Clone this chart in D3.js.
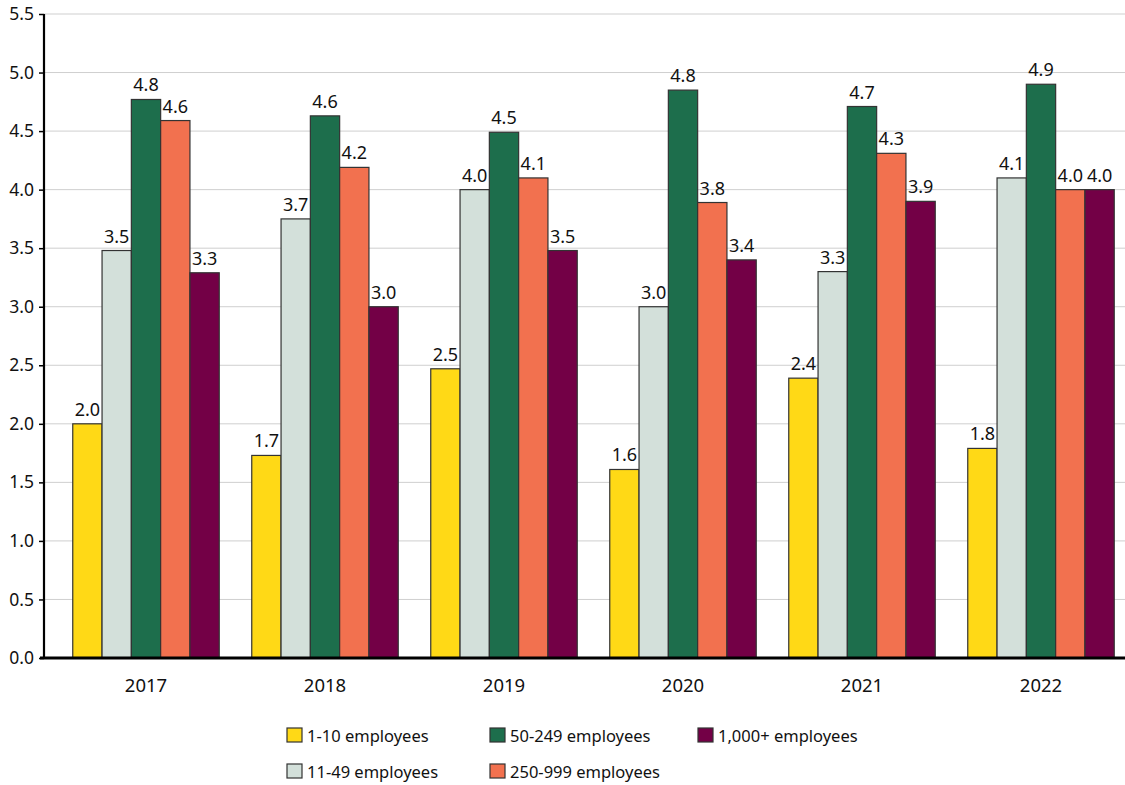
<!DOCTYPE html>
<html>
<head>
<meta charset="utf-8">
<script src="https://cdn.jsdelivr.net/npm/d3@7"></script>
<style>
  html, body { margin: 0; padding: 0; background: #fff; }
  svg { display: block; font-family: "Noto Sans", "Open Sans", sans-serif; }
</style>
</head>
<body>
<svg id="chart" width="1125" height="785"></svg>
<script>
const years = ["2017", "2018", "2019", "2020", "2021", "2022"];
const seriesNames = ["1-10 employees", "11-49 employees", "50-249 employees", "250-999 employees", "1,000+ employees"];
const s1_10 = [2.0, 1.73, 2.47, 1.61, 2.39, 1.79];
const s11_49 = [3.48, 3.75, 4.0, 3.0, 3.3, 4.1];
const s50_249 = [4.77, 4.63, 4.49, 4.85, 4.71, 4.9];
const s250_999 = [4.59, 4.19, 4.1, 3.89, 4.31, 4.0];
const s1000 = [3.29, 3.0, 3.48, 3.4, 3.9, 4.0];
// value labels as printed in the chart
const l1_10 = ["2.0", "1.7", "2.5", "1.6", "2.4", "1.8"];
const l11_49 = ["3.5", "3.7", "4.0", "3.0", "3.3", "4.1"];
const l50_249 = ["4.8", "4.6", "4.5", "4.8", "4.7", "4.9"];
const l250_999 = ["4.6", "4.2", "4.1", "3.8", "4.3", "4.0"];
const l1000 = ["3.3", "3.0", "3.5", "3.4", "3.9", "4.0"];
const colors = ["#FFD916", "#D3E0DA", "#1D6E4C", "#F2714F", "#730046"];
const yTicks = [0, 0.5, 1.0, 1.5, 2.0, 2.5, 3.0, 3.5, 4.0, 4.5, 5.0, 5.5];

const seriesValues = [s1_10, s11_49, s50_249, s250_999, s1000];
const seriesLabels = [l1_10, l11_49, l50_249, l250_999, l1000];

const svg = d3.select("#chart");
const W = 1125;

const y = d3.scaleLinear().domain([0, 5.5]).range([658, 14]);
const x = d3.scaleBand().domain(years).range([56.5, 1130.5]).paddingInner(0.1816).paddingOuter(0.0908);
const xs = d3.scaleBand().domain(seriesNames).range([0, x.bandwidth()]).padding(0);

// gridlines
svg.append("g").selectAll("line").data(yTicks.filter(d => d > 0)).join("line")
  .attr("x1", 44).attr("x2", W)
  .attr("y1", d => y(d)).attr("y2", d => y(d))
  .attr("stroke", "#cfcfcf").attr("stroke-width", 1);

// y axis
const yAxis = d3.axisLeft(y).tickValues(yTicks).tickFormat(d3.format(".1f")).tickSize(5).tickPadding(5);
const gy = svg.append("g").attr("transform", "translate(44,0)").call(yAxis);
gy.select(".domain").attr("stroke", "#000").attr("stroke-width", 2.2).attr("d", `M0,${y(5.5)}V${y(0)}`);
gy.selectAll(".tick line").attr("stroke", "#000").attr("stroke-width", 1.5);
gy.selectAll(".tick text").attr("fill", "#111").style("font-size", "17.5px")
  .style("font-family", '"Noto Sans", sans-serif');

// bars
const groups = svg.append("g").selectAll("g").data(years).join("g")
  .attr("transform", d => `translate(${x(d)},0)`);

groups.each(function(yr, i) {
  const g = d3.select(this);
  const rows = seriesNames.map((s, k) => ({ s, k, v: seriesValues[k][i], l: seriesLabels[k][i] }));
  g.selectAll("rect").data(rows).join("rect")
    .attr("x", d => xs(d.s))
    .attr("y", d => y(d.v))
    .attr("width", xs.bandwidth())
    .attr("height", d => y(0) - y(d.v))
    .attr("fill", d => colors[d.k])
    .attr("stroke", "#333")
    .attr("stroke-width", 1.2);
  g.selectAll("text").data(rows).join("text")
    .attr("x", d => xs(d.s) + xs.bandwidth() / 2)
    .attr("y", d => y(d.v) - 8)
    .attr("text-anchor", "middle")
    .attr("fill", "#111")
    .style("font-size", "18px")
    .text(d => d.l);
});

// baseline
svg.append("line").attr("x1", 40).attr("x2", W).attr("y1", y(0)).attr("y2", y(0))
  .attr("stroke", "#000").attr("stroke-width", 3);

// x labels
svg.append("g").selectAll("text").data(years).join("text")
  .attr("x", d => x(d) + x.bandwidth() / 2)
  .attr("y", 692)
  .attr("text-anchor", "middle")
  .attr("fill", "#111")
  .style("font-size", "18.5px")
  .text(d => d);

// legend
const legendPos = [[287, 728], [287, 764], [490, 728], [490, 764], [698, 728]];
const lg = svg.append("g").selectAll("g").data(seriesNames).join("g")
  .attr("transform", (d, i) => `translate(${legendPos[i][0]},${legendPos[i][1]})`);
lg.append("rect").attr("width", 15).attr("height", 14)
  .attr("fill", (d, i) => colors[i]).attr("stroke", "#333").attr("stroke-width", 1.2);
lg.append("text").attr("x", 20).attr("y", 13.5)
  .attr("fill", "#111").style("font-size", "16.5px")
  .text(d => d);
</script>
</body>
</html>
